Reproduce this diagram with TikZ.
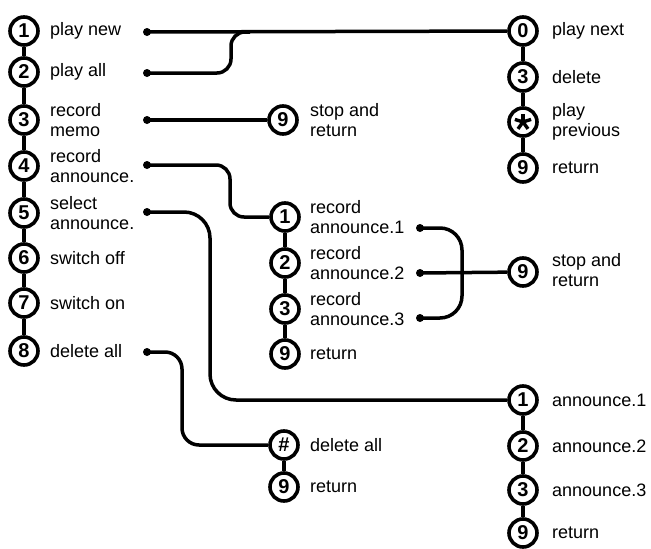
\documentclass[tikz,border=0pt]{standalone}
\usepackage{fontspec}
\setmainfont{Liberation Sans}
\newcommand{\lblfont}{\fontsize{18}{20}\selectfont}
\newcommand{\keyfont}{\fontsize{20}{20}\selectfont\bfseries}
\begin{document}
\begin{tikzpicture}[x=1pt,y=-1pt,
  key/.style={circle, draw, line width=3.6pt, minimum size=28pt, inner sep=0pt, font=\keyfont},
  lbl/.style={anchor=west, inner sep=0pt, align=left, font=\lblfont},
  jack/.style={circle, fill, minimum size=8pt, inner sep=0pt},
  wire/.style={line width=3.5pt, rounded corners=14pt},
  stem/.style={line width=3.4pt},
  arm/.style={line width=3.4pt}]
\useasboundingbox (0,0) rectangle (651,549);

% main menu keys
\node[key] (L1) at (24,31) {1};
\node[key] (L2) at (24,72) {2};
\node[key] (L3) at (24,120) {3};
\node[key] (L4) at (24,166) {4};
\node[key] (L5) at (24,213) {5};
\node[key] (L6) at (24,258) {6};
\node[key] (L7) at (24,303) {7};
\node[key] (L8) at (24,351) {8};
\foreach \a/\b in {L1/L2,L2/L3,L3/L4,L4/L5,L5/L6,L6/L7,L7/L8} \draw[stem] (\a) -- (\b);

\node[lbl] (L1t) at (50,31) {play new};
\node[lbl] (L2t) at (50,72) {play all};
\node[lbl] (L3t) at (50,120) {record\\memo};
\node[lbl] (L4t) at (50,166) {record\\announce.};
\node[lbl] (L5t) at (50,213) {select\\announce.};
\node[lbl] (L6t) at (50,258) {switch off};
\node[lbl] (L7t) at (50,303) {switch on};
\node[lbl] (L8t) at (50,351) {delete all};

% playback menu
\node[key] (T0) at (523,31) {0};
\node[key] (T3) at (523,77) {3};
\node[key] (Ts) at (523,122) {};
\foreach \ang in {270,342,198,126,54} \draw[arm] (Ts.center) -- ++(\ang:8.5);
\node[key] (T9) at (523,168) {9};
\foreach \a/\b in {T0/T3,T3/Ts,Ts/T9} \draw[stem] (\a) -- (\b);
\node[lbl] (T0t) at (552,31) {play next};
\node[lbl] (T3t) at (552,77) {delete};
\node[lbl] (Tst) at (552,122) {play\\previous};
\node[lbl] (T9t) at (552,168) {return};

% memo recording
\node[key] (M9) at (283,120) {9};
\node[lbl] (M9t) at (310,120) {stop and\\return};

% announcement recording menu
\node[key] (R1) at (285,217) {1};
\node[key] (R2) at (285,263) {2};
\node[key] (R3) at (285,309) {3};
\node[key] (R9) at (285,354) {9};
\foreach \a/\b in {R1/R2,R2/R3,R3/R9} \draw[stem] (\a) -- (\b);
\node[lbl] (R1t) at (310,217) {record\\announce.1};
\node[lbl] (R2t) at (310,263) {record\\announce.2};
\node[lbl] (R3t) at (310,309) {record\\announce.3};
\node[lbl] (R9t) at (310,354) {return};

\node[key] (S9) at (523,272) {9};
\node[lbl] (S9t) at (552,270) {stop and\\return};

% announcement selection menu
\node[key] (A1) at (523,400) {1};
\node[key] (A2) at (523,446) {2};
\node[key] (A3) at (523,490) {3};
\node[key] (A9) at (523,533) {9};
\foreach \a/\b in {A1/A2,A2/A3,A3/A9} \draw[stem] (\a) -- (\b);
\node[lbl] (A1t) at (552,400) {announce.1};
\node[lbl] (A2t) at (552,446) {announce.2};
\node[lbl] (A3t) at (552,490) {announce.3};
\node[lbl] (A9t) at (552,533) {return};

% delete-all menu
\node[key] (Dh) at (284,445) {\#};
\node[key] (D9) at (284,487) {9};
\draw[stem] (Dh) -- (D9);
\node[lbl] (Dht) at (310,445) {delete all};
\node[lbl] (D9t) at (310,487) {return};

% connector start points
\node[jack] (d1) at (147,32) {};
\node[jack] (d2) at (147,73) {};
\node[jack] (d3) at (147,120) {};
\node[jack] (d4) at (147,165) {};
\node[jack] (d5) at (147,212) {};
\node[jack] (d8) at (147,352) {};
\node[jack] (e1) at (420,228) {};
\node[jack] (e2) at (420,273) {};
\node[jack] (e3) at (420,318) {};

% connectors
\draw[wire] (d1.center) -- (T0);
\coordinate (j2) at (250,32);
\draw[wire] (d2.center) -- (231,73) -- (231,32) -- (j2);
\draw[wire] (d3.center) -- (M9);
\draw[wire] (d4.center) -- (230,165) -- (230,217) -- (R1);
\draw[wire, rounded corners=26pt] (d5.center) -- (210,212) -- (210,400) -- (A1);
\draw[wire, rounded corners=17pt] (d8.center) -- (182,352) -- (182,445) -- (Dh);
\draw[wire, rounded corners=22pt] (e1.center) -- (462,228) -- (462,318) -- (e3.center);
\draw[wire] (e2.center) -- (S9);
\end{tikzpicture}
\end{document}
